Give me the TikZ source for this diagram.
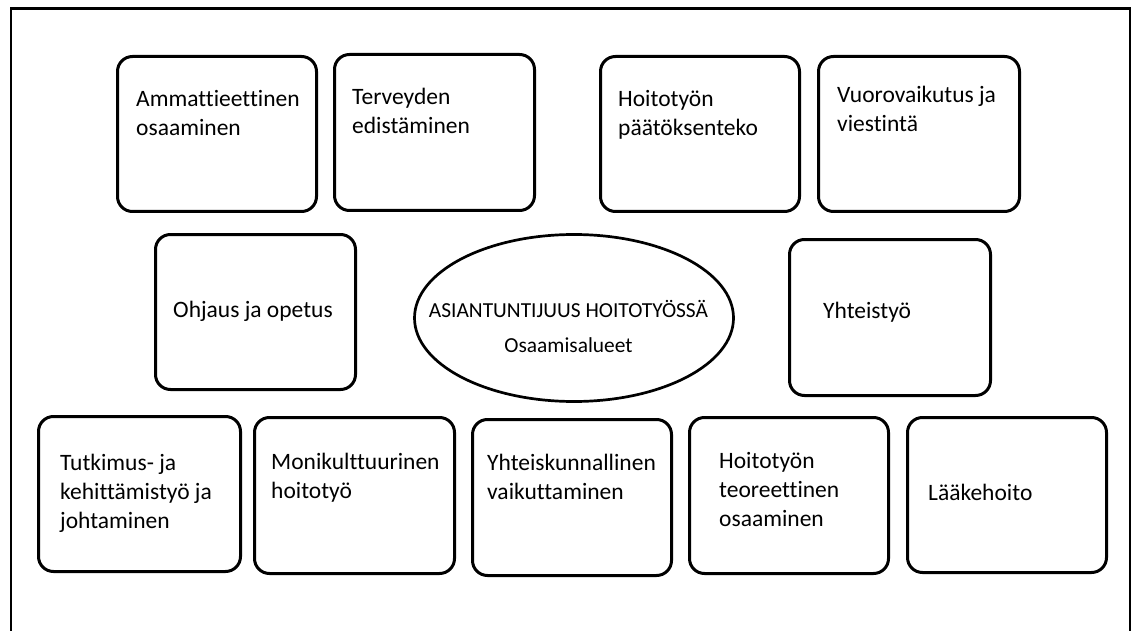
\documentclass[tikz,border=0pt]{standalone}
\usepackage{fontspec}
\setmainfont{Carlito}[Ligatures=NoCommon]
\usetikzlibrary{shapes.geometric}
\newcommand\mlines[1]{\begin{tabular}[t]{@{}l@{}}#1\end{tabular}}
\newcommand\mlinesc[1]{\begin{tabular}[t]{@{}c@{}}#1\end{tabular}}
\tikzset{
  box/.style={draw=black, line width=3pt, rounded corners=15pt, inner sep=0pt, outer sep=0pt, minimum width=199pt, minimum height=155pt},
  txt/.style={inner sep=0pt, anchor=base west, font=\fontsize{23.5}{29}\selectfont},
  ctxt/.style={inner sep=0pt, anchor=base, font=\fontsize{21.4}{35}\selectfont},
  oval/.style={draw=black, line width=2.7pt, ellipse, inner sep=0pt, minimum width=319pt, minimum height=167pt},
  frame/.style={draw=black, line width=2.5pt}
}
\begin{document}
\begin{tikzpicture}[x=1pt,y=-1pt]
\useasboundingbox (0,0) rectangle (1132,631);
% outer frame
\coordinate (fbl) at (11,640);
\coordinate (ftl) at (11,8.5);
\coordinate (ftr) at (1130,8.5);
\coordinate (fbr) at (1130,640);
\draw[frame] (fbl) -- (ftl) -- (ftr) -- (fbr);

% boxes
\node[box, minimum width=199pt, minimum height=155pt] (b1) at (217,134) {};
\node[box, minimum width=200pt, minimum height=156pt] (b2) at (434.5,132.5) {};
\node[box, minimum width=199pt, minimum height=155pt] (b3) at (700,134) {};
\node[box, minimum width=201pt, minimum height=155pt] (b4) at (919,134) {};
\node[box, minimum width=200pt, minimum height=155pt] (b5) at (255.5,312) {};
\node[box, minimum width=201pt, minimum height=156pt] (b6) at (890,317.5) {};
\node[box, minimum width=202pt, minimum height=155pt] (b7) at (139.5,494) {};
\node[box, minimum width=200pt, minimum height=156pt] (b8) at (354.5,495.5) {};
\node[box, minimum width=199pt, minimum height=156pt] (b9) at (572,497.5) {};
\node[box, minimum width=199pt, minimum height=156pt] (b10) at (789,495.5) {};
\node[box, minimum width=199pt, minimum height=155pt] (b11) at (1007,495) {};

% ellipse
\node[oval] (e) at (574,318) {};

% texts
\node[txt] (t1) at (136,106.5) {\mlines{Ammattieettinen\\osaaminen}};
\node[txt] (t2) at (352,105) {\mlines{Terveyden\\edistäminen}};
\node[txt] (t3) at (618,107) {\mlines{Hoitotyön\\päätöksenteko}};
\node[txt] (t4) at (837,103) {\mlines{Vuorovaikutus ja\\viestintä}};
\node[txt] (t5) at (173,317) {Ohjaus ja opetus};
\node[txt] (t6) at (823,318) {Yhteistyö};
\node[txt] (t7) at (60,470) {\mlines{Tutkimus- ja\\kehittämistyö ja\\johtaminen}};
\node[txt] (t8) at (271,469) {\mlines{Monikulttuurinen\\hoitotyö}};
\node[txt] (t9) at (487,470) {\mlines{Yhteiskunnallinen\\vaikuttaminen}};
\node[txt] (t10) at (719,468) {\mlines{Hoitotyön\\teoreettinen\\osaaminen}};
\node[txt] (t11) at (928,500) {Lääkehoito};
\node[ctxt] (te) at (568.5,317) {\mlinesc{ASIANTUNTIJUUS HOITOTYÖSSÄ\\Osaamisalueet}};
\end{tikzpicture}
\end{document}
